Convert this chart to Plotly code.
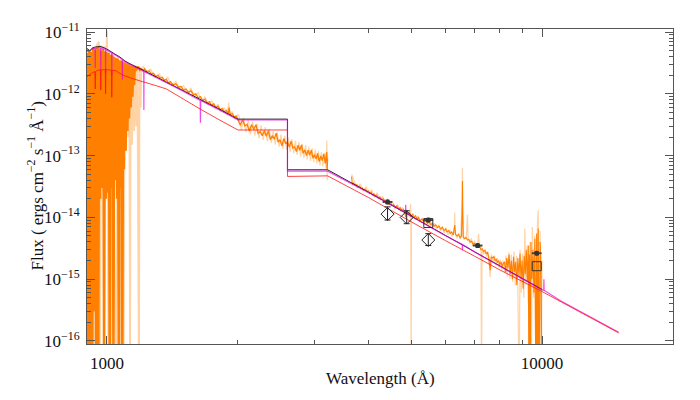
import plotly.graph_objects as go

# ---------------- data ----------------
# observed spectrum, UV part: dark (binned) and light (raw) curves
uv_dark_wl = [900, 905, 910, 915, 920, 925, 930, 935, 940, 945, 950, 955, 960, 965, 970, 975,
              980, 985, 990, 995, 1000, 1005, 1010, 1015, 1020, 1025, 1030, 1035, 1040, 1045,
              1050, 1055, 1060, 1065, 1070, 1075, 1080, 1085, 1090, 1095, 1100, 1105, 1110,
              1115, 1120, 1125, 1130, 1135, 1140, 1145, 1150, 1155, 1160, 1170, 1180, 1190,
              1200, 1210, 1220, 1235, 1250, 1265, 1280, 1295, 1310, 1325, 1340, 1355, 1370,
              1385, 1400, 1420, 1440, 1460, 1480, 1500, 1520, 1540, 1560, 1580, 1600, 1620,
              1640, 1660, 1680, 1700, 1720, 1740, 1760, 1780, 1800, 1820, 1840, 1860, 1880,
              1900, 1910, 1920, 1940, 1960, 1980,
              2000, 2025, 2050, 2075, 2100, 2125, 2150, 2175, 2200, 2225, 2250, 2275, 2300,
              2325, 2350, 2375, 2400, 2425, 2450, 2475, 2500, 2525, 2550, 2575, 2600, 2625,
              2650, 2675, 2700, 2725, 2750, 2775, 2800, 2825, 2850, 2875, 2900, 2925, 2950,
              2975, 3000, 3025, 3050, 3075, 3100, 3125, 3150, 3175, 3200, 3208, 3214]
uv_dark_flux = [4.6e-12, 1e-17, 5.0e-12, 1e-17, 4.8e-12, 1e-17, 5.5e-12, 3e-16, 5.2e-12, 1e-17,
                5.6e-12, 1e-17, 5.4e-12, 2e-14, 5.0e-12, 3e-14, 5.3e-12, 1e-17, 4.9e-12, 2e-14,
                4.7e-12, 2.5e-14, 4.6e-12, 1e-17, 4.3e-12, 3e-14, 4.2e-12, 1e-17, 4.0e-12, 4e-14,
                3.8e-12, 2e-14, 3.7e-12, 1e-17, 3.5e-12, 3e-14, 3.4e-12, 1e-17, 3.3e-12, 6e-14,
                3.2e-12, 1.2e-13, 3.1e-12, 2.5e-13, 3.0e-12, 4e-13, 2.9e-12, 6e-13, 2.85e-12,
                9e-13, 2.8e-12, 1.4e-12, 2.8e-12, 2.5e-12, 2.75e-12, 2.45e-12,
                2.6e-12, 2.35e-12, 2.55e-12, 2.3e-12, 2.35e-12, 2.1e-12, 2.15e-12, 1.9e-12,
                2.0e-12, 1.8e-12, 1.85e-12, 1.65e-12, 1.72e-12, 1.5e-12, 1.58e-12, 1.4e-12,
                1.45e-12, 1.28e-12, 1.32e-12, 1.15e-12, 1.2e-12, 1.05e-12, 1.12e-12, 9.6e-13,
                1.0e-12, 8.6e-13, 9.0e-13, 7.8e-13, 8.2e-13, 7.1e-13, 7.5e-13, 6.5e-13, 6.9e-13,
                6.0e-13, 6.3e-13, 5.5e-13, 5.8e-13, 5.1e-13, 5.4e-13, 4.8e-13, 6.0e-13, 4.6e-13,
                4.8e-13, 4.2e-13, 4.4e-13,
                3.86e-13, 3.10e-13, 3.81e-13, 3.02e-13, 3.21e-13, 2.51e-13, 3.18e-13, 2.66e-13,
                3.17e-13, 2.30e-13, 2.46e-13, 2.09e-13, 2.53e-13, 2.06e-13, 2.54e-13, 1.81e-13,
                2.11e-13, 1.85e-13, 2.31e-13, 1.65e-13, 1.81e-13, 1.44e-13, 1.89e-13, 1.55e-13,
                1.68e-13, 1.37e-13, 1.71e-13, 1.33e-13, 1.39e-13, 1.16e-13, 1.47e-13, 1.22e-13,
                1.49e-13, 1.09e-13, 1.24e-13, 1.00e-13, 1.22e-13, 1.02e-13, 1.23e-13, 0.91e-13,
                1.03e-13, 0.89e-13, 1.09e-13, 0.80e-13, 0.99e-13, 0.83e-13, 1.07e-13, 0.75e-13,
                1.14e-13, 0.6e-13, 0.9e-13]

uv_light_wl = [900, 903, 912, 918, 928, 933, 946, 958, 962, 972, 990, 998, 1000, 1002, 1008,
               1012, 1022, 1028, 1052, 1058, 1078, 1083, 1092, 1098, 1105, 1112, 1120, 1126,
               1130, 1134, 1142, 1148, 1155, 1162, 1168, 1175, 1185, 1188, 1195, 1200, 1215,
               1230, 1260, 1290, 1320, 1350, 1380, 1410, 1440, 1470, 1500, 1530, 1560, 1590,
               1620, 1650, 1680, 1710, 1740, 1770, 1800, 1830, 1860, 1890, 1905, 1915, 1940,
               1970, 2000, 2012, 2037, 2062, 2087, 2112, 2137, 2162, 2187, 2212, 2237, 2262,
               2287, 2312, 2337, 2362, 2387, 2412, 2437, 2462, 2487, 2512, 2537, 2562, 2587,
               2612, 2637, 2662, 2687, 2712, 2737, 2762, 2787, 2812, 2837, 2862, 2887, 2912,
               2937, 2962, 2987, 3012, 3037, 3062, 3087, 3112, 3137, 3162, 3187, 3202, 3208,
               3214]
uv_light_flux = [5.5e-12, 1e-17, 5.2e-12, 1e-17, 5.8e-12, 1e-17, 6.0e-12, 7e-12, 1e-17, 5.8e-12,
                 5.6e-12, 6e-12, 1.05e-11, 4.8e-12, 1e-17, 4.9e-12, 1e-17, 4.5e-12, 1e-17,
                 4.0e-12, 1e-17, 3.6e-12, 1e-17, 3.4e-12, 1.5e-13, 3.3e-12, 2e-13, 3.2e-12,
                 1e-17, 3.1e-12, 1.5e-13, 3.0e-12, 2.5e-13, 2.9e-12, 3e-13, 2.8e-12, 1e-17,
                 2.7e-12, 6e-13, 2.6e-12, 2.8e-12, 2.2e-12, 2.5e-12, 1.85e-12, 2.1e-12, 1.6e-12,
                 1.85e-12, 1.38e-12, 1.6e-12, 1.2e-12, 1.35e-12, 1.0e-12, 1.25e-12, 9e-13,
                 1.05e-12, 7.5e-13, 9e-13, 6.6e-13, 7.8e-13, 5.8e-13, 6.8e-13, 5.1e-13, 6.0e-13,
                 4.6e-13, 7.2e-13, 4.5e-13, 5.2e-13, 3.9e-13, 4.6e-13,
                 4.4e-13, 2.6e-13, 4.1e-13, 2.4e-13, 3.8e-13, 2.2e-13, 3.6e-13, 2.1e-13, 3.3e-13,
                 1.9e-13, 3.1e-13, 1.8e-13, 2.9e-13, 1.7e-13, 2.7e-13, 1.6e-13, 2.5e-13, 1.5e-13,
                 2.4e-13, 1.4e-13, 2.2e-13, 1.3e-13, 2.1e-13, 1.25e-13, 1.95e-13, 1.15e-13,
                 1.85e-13, 1.1e-13, 1.75e-13, 1.03e-13, 1.65e-13, 0.98e-13, 1.55e-13, 0.92e-13,
                 1.48e-13, 0.87e-13, 1.40e-13, 0.82e-13, 1.33e-13, 0.78e-13, 1.25e-13, 0.74e-13,
                 1.19e-13, 0.70e-13, 1.14e-13, 0.67e-13, 1.10e-13, 0.64e-13, 1.75e-13, 0.4e-13,
                 1.0e-13]

# observed spectrum, optical part
opt_dark_wl = [3650, 3665, 3690, 3720, 3750, 3780, 3810, 3840, 3870, 3900, 3930, 3960, 3990,
               4020, 4050, 4080, 4110, 4140, 4170, 4200, 4240, 4280, 4320, 4360, 4400, 4440,
               4480, 4520, 4560, 4600, 4640, 4680, 4720, 4760, 4800, 4840, 4861, 4880, 4920,
               4960, 5000, 5040, 5080, 5120, 5160, 5200, 5250, 5300, 5350, 5400, 5450, 5500,
               5550, 5600, 5650, 5700, 5750, 5800, 5850, 5900, 5950, 6000, 6050, 6100, 6150,
               6200, 6250, 6300, 6330, 6380, 6430, 6480, 6530, 6555, 6563, 6572, 6590, 6640,
               6690, 6740, 6790, 6840, 6890, 6940, 6990, 7040, 7090, 7140, 7190, 7240, 7290,
               7340, 7390, 7440, 7490, 7540, 7600, 7640, 7700, 7750, 7800, 7850, 7900, 7950,
               8000, 8050, 8100, 8150, 8200, 8250, 8300, 8350, 8400, 8450, 8500, 8550, 8600,
               8650, 8700, 8750, 8800, 8850, 8900, 8950, 9000, 9050, 9100, 9150, 9200, 9250,
               9300, 9330, 9360, 9400, 9430, 9480, 9530, 9580, 9630, 9680, 9720, 9760, 9800,
               9850, 9900, 9950, 10000]
opt_dark_flux = [4.6e-14, 3.4e-14, 3.6e-14, 3.3e-14, 3.4e-14, 3.1e-14, 3.2e-14, 2.9e-14, 3.0e-14,
                 2.75e-14, 2.85e-14, 2.6e-14, 2.7e-14, 2.45e-14, 2.55e-14, 2.3e-14, 2.4e-14,
                 2.2e-14, 2.3e-14, 2.05e-14, 2.15e-14, 1.95e-14, 2.0e-14, 1.8e-14, 1.9e-14,
                 1.65e-14, 1.72e-14, 1.55e-14, 1.62e-14, 1.45e-14, 1.55e-14, 1.35e-14, 1.45e-14,
                 1.28e-14, 1.36e-14, 1.2e-14, 1.0e-14, 1.25e-14, 1.15e-14, 1.2e-14, 1.05e-14,
                 1.12e-14, 1.0e-14, 1.06e-14, 9.4e-15, 1.0e-14, 8.9e-15, 9.4e-15, 8.4e-15,
                 8.9e-15, 8.0e-15, 8.4e-15, 7.6e-15, 8.0e-15, 7.2e-15, 7.6e-15, 6.8e-15, 7.2e-15,
                 6.5e-15, 6.9e-15, 6.1e-15, 6.5e-15, 5.8e-15, 6.1e-15, 5.5e-15, 5.8e-15, 5.2e-15,
                 7.5e-15, 5.3e-15, 5.0e-15, 5.3e-15, 4.7e-15, 5.0e-15, 1.5e-14, 3.9e-14, 1.2e-14,
                 4.8e-15, 4.5e-15, 4.7e-15, 4.3e-15, 4.4e-15, 4.0e-15, 4.1e-15, 3.7e-15, 3.8e-15,
                 3.5e-15, 3.6e-15, 3.3e-15, 3.4e-15, 3.0e-15, 3.1e-15, 2.8e-15, 2.9e-15, 2.6e-15,
                 2.7e-15, 2.3e-15, 1.4e-15, 2.3e-15, 2.2e-15, 2.3e-15, 2.0e-15, 2.1e-15, 1.85e-15,
                 2.0e-15, 1.7e-15, 1.9e-15, 1.6e-15, 1.8e-15, 1.9e-15, 1.3e-15, 2.2e-15, 1.5e-15,
                 2.5e-15, 1.2e-15, 2.0e-15, 1.0e-15, 2.3e-15, 1.3e-15, 1.9e-15, 8e-16, 2.2e-15,
                 1.1e-15, 2.6e-15, 1.0e-15, 2.0e-15, 7e-16, 2.4e-15, 1.2e-15, 3.0e-15, 9e-16,
                 3.5e-15, 1e-17, 2.5e-15, 1e-17, 4e-15, 1.0e-15, 3.0e-15, 6e-16, 4.5e-15, 1e-17,
                 5.5e-15, 1e-17, 6.6e-15, 1e-17, 4e-15, 1.5e-15, 1e-17]

opt_light_wl = [3650, 3700, 3760, 3820, 3880, 3940, 4000, 4060, 4120, 4180, 4240, 4300, 4360,
                4420, 4480, 4540, 4600, 4660, 4720, 4780, 4840, 4900, 4960, 4990, 5003, 5010,
                5060, 5120, 5180, 5240, 5300, 5360, 5420, 5480, 5540, 5600, 5660, 5720, 5780,
                5840, 5900, 5960, 6020, 6080, 6140, 6200, 6290, 6300, 6310, 6380, 6440, 6500,
                6550, 6563, 6575, 6600, 6700, 6740, 6760, 6820, 6880, 6940, 7000, 7060, 7120,
                7150, 7180, 7240, 7260, 7280, 7340, 7400, 7460, 7520, 7600, 7660, 7720, 7780,
                7840, 7900, 7960, 8020, 8080, 8140, 8200, 8260, 8320, 8380, 8440, 8500, 8560,
                8620, 8680, 8740, 8800, 8860, 8900, 8960, 9020, 9080, 9130, 9180, 9240, 9300,
                9380, 9440, 9500, 9560, 9620, 9700, 9760, 9800, 9840, 9900, 9950, 10000]
opt_light_flux = [5e-14, 3.9e-14, 3.0e-14, 3.5e-14, 2.7e-14, 3.1e-14, 2.4e-14, 2.8e-14, 2.1e-14,
                  2.5e-14, 1.9e-14, 2.2e-14, 1.7e-14, 2.0e-14, 1.55e-14, 1.8e-14, 1.35e-14,
                  1.6e-14, 1.25e-14, 1.45e-14, 1.12e-14, 1.3e-14, 1.0e-14, 1.66e-14, 1e-17,
                  1.0e-14, 1.15e-14, 9.2e-15, 1.05e-14, 8.4e-15, 9.8e-15, 7.8e-15, 9.2e-15,
                  7.2e-15, 8.6e-15, 6.8e-15, 8.0e-15, 6.4e-15, 7.6e-15, 6.0e-15, 7.2e-15, 5.6e-15,
                  6.8e-15, 5.2e-15, 6.3e-15, 4.9e-15, 6e-15, 1.2e-14, 5.5e-15, 4.6e-15, 5.6e-15,
                  4.4e-15, 2e-14, 6.3e-14, 1.5e-14, 4.4e-15, 5.0e-15, 1.1e-14, 4.6e-15, 3.8e-15,
                  4.6e-15, 3.5e-15, 4.2e-15, 3.2e-15, 4.0e-15, 5.4e-15, 3.3e-15, 3.5e-15, 1e-17,
                  3.0e-15, 2.5e-15, 3.1e-15, 2.3e-15, 2.8e-15, 1.08e-15, 2.5e-15, 1.9e-15,
                  2.4e-15, 1.7e-15, 2.2e-15, 1.55e-15, 2.1e-15, 1.4e-15, 2.0e-15, 1.3e-15,
                  2.4e-15, 1.1e-15, 2.7e-15, 1.0e-15, 2.5e-15, 9e-16, 2.8e-15, 8e-16, 2.4e-15,
                  7e-16, 1e-17, 3e-15, 6e-16, 2.6e-15, 5e-16, 6.6e-15, 8e-16, 3.5e-15, 4e-16,
                  4e-15, 1e-17, 7e-15, 5e-16, 5e-15, 1e-17, 8e-15, 1.3e-14, 1e-17, 6e-15, 1e-17,
                  2e-15]

# model curves
black_wl = [900, 914, 925, 938, 950, 964, 975, 989, 1000, 1016, 1043, 1071, 1100, 1130, 1160,
            1210, 1300, 1400, 1500, 1650, 1800, 2000, 2600, 2600, 3215, 4000, 5000, 6000, 7000,
            8000, 9000, 10000]
black_flux = [5.4e-12, 5.0e-12, 5.5e-12, 5.7e-12, 5.8e-12, 5.9e-12, 5.7e-12, 5.5e-12, 5.3e-12,
              4.95e-12, 4.4e-12, 3.95e-12, 3.4e-12, 3.06e-12, 2.79e-12, 2.42e-12, 1.87e-12,
              1.43e-12, 1.12e-12, 7.9e-13, 5.8e-13, 3.9e-13, 3.9e-13, 5.9e-14, 5.9e-14, 2.53e-14,
              1.05e-14, 5.1e-15, 2.77e-15, 1.64e-15, 1.03e-15, 6.8e-16]

magenta_wl = [900, 914, 925, 938, 939, 940, 941, 950, 964, 967, 968, 969, 975, 989, 992, 993,
              994, 1000, 1016, 1025, 1026, 1027, 1043, 1071, 1084, 1085, 1086, 1100, 1130, 1160,
              1210, 1215, 1216, 1217, 1300, 1400, 1500, 1638, 1640, 1642, 1650, 1800, 2000,
              2600, 2600, 3215, 4000, 4855, 4861, 4867, 5000, 6000, 6555, 6563, 6570, 7000,
              8000, 9000, 10000, 10090, 10100, 10110, 11000, 15000]
magenta_flux = [4.9e-12, 4.9e-12, 5.3e-12, 5.5e-12, 5.5e-12, 2.6e-12, 5.5e-12, 5.6e-12, 5.6e-12,
                5.5e-12, 2.4e-12, 5.5e-12, 5.4e-12, 5.3e-12, 5.2e-12, 2.2e-12, 5.2e-12, 5.1e-12,
                4.8e-12, 4.6e-12, 2.0e-12, 4.6e-12, 4.3e-12, 3.85e-12, 3.6e-12, 1.7e-12, 3.6e-12,
                3.3e-12, 3.0e-12, 2.72e-12, 2.36e-12, 2.3e-12, 5.5e-13, 2.3e-12, 1.82e-12,
                1.4e-12, 1.09e-12, 7.8e-13, 3.4e-13, 7.8e-13, 7.7e-13, 5.65e-13, 3.8e-13, 3.8e-13,
                5.6e-14, 5.6e-14, 2.5e-14, 1.21e-14, 1.6e-14, 1.21e-14, 1.04e-14, 5.05e-15,
                3.65e-15, 2.9e-15, 3.65e-15, 2.74e-15, 1.62e-15, 1.02e-15, 6.75e-16, 6.6e-16,
                1.0e-15, 6.6e-16, 4.5e-16, 1.38e-16]

red_wl = [900, 925, 938, 940, 942, 950, 966, 968, 970, 975, 991, 993, 995, 1000, 1024, 1026, 1028,
          1050, 1071, 1100, 1150, 1210, 1300, 1370, 1500, 1636, 1800, 2000, 2600, 2600, 3215,
          4000, 5000, 6000, 7000, 8000, 10000, 15000]
red_flux = [1.9e-12, 2.2e-12, 2.3e-12, 1.2e-12, 2.3e-12, 2.4e-12, 2.45e-12, 1.15e-12, 2.45e-12,
            2.46e-12, 2.47e-12, 1.0e-12, 2.47e-12, 2.47e-12, 2.42e-12, 8.8e-13, 2.4e-12, 2.36e-12,
            2.14e-12, 1.95e-12, 1.75e-12, 1.57e-12, 1.35e-12, 1.2e-12, 8.2e-13, 5.7e-13, 3.9e-13,
            2.6e-13, 2.6e-13, 4.6e-14, 4.7e-14, 2.08e-14, 8.5e-15, 4.2e-15, 2.35e-15, 1.41e-15,
            6.3e-16, 1.35e-16]

# photometry
phot_wl = [4415, 5478, 7112, 9723]
phot_flux = [1.78e-14, 9.06e-15, 3.49e-15, 2.63e-15]
phot_wl_err = [93, 115, 150, 205]
phot_flux_err = [1.2e-15, 6e-16, 2.3e-16, 1.7e-16]

diam_wl = [4415, 4886, 5478]
diam_flux = [1.13e-14, 9.96e-15, 4.3e-15]
diam_hi = [1.48e-14, 1.28e-14, 5.45e-15]
diam_lo = [9.06e-15, 7.9e-15, 3.5e-15]

sq_wl = [5478, 9723]
sq_flux = [8.1e-15, 1.62e-15]

x_ticks = [1000, 10000]
x_ticktext = ["1000", "10000"]
y_exponents = [-16, -15, -14, -13, -12, -11]

# ---------------- figure ----------------
LIGHT = "rgba(255,140,20,0.38)"
DARK = "rgb(255,128,0)"

# the far-UV part of the spectrum is drawn with a thicker line (dense noise)
k_uv = uv_dark_wl.index(1200)
k_ul = uv_light_wl.index(1200)

fig = go.Figure()
for wl, fl, col, w in [(uv_light_wl[:k_ul + 1], uv_light_flux[:k_ul + 1], LIGHT, 1.8),
                       (uv_light_wl[k_ul:], uv_light_flux[k_ul:], LIGHT, 1.2),
                       (opt_light_wl, opt_light_flux, LIGHT, 1.2),
                       (uv_dark_wl[:k_uv + 1], uv_dark_flux[:k_uv + 1], DARK, 2.3),
                       (uv_dark_wl[k_uv:], uv_dark_flux[k_uv:], DARK, 1.3),
                       (opt_dark_wl, opt_dark_flux, DARK, 1.1)]:
    fig.add_trace(go.Scatter(x=wl, y=fl, mode="lines",
                             line=dict(color=col, width=w, simplify=False),
                             showlegend=False, hoverinfo="skip"))

fig.add_trace(go.Scatter(x=black_wl, y=black_flux, mode="lines",
                         line=dict(color="rgba(0,0,0,0.85)", width=1, simplify=False),
                         showlegend=False))
fig.add_trace(go.Scatter(x=magenta_wl, y=magenta_flux, mode="lines",
                         line=dict(color="rgba(230,0,230,0.7)", width=1.2, simplify=False),
                         showlegend=False))
fig.add_trace(go.Scatter(x=red_wl, y=red_flux, mode="lines",
                         line=dict(color="rgba(255,20,20,0.8)", width=1, simplify=False),
                         showlegend=False))

fig.add_trace(go.Scatter(
    x=phot_wl, y=phot_flux, mode="markers",
    marker=dict(symbol="circle", size=5, color="#333"),
    error_x=dict(type="data", array=phot_wl_err, color="#444", thickness=1.8, width=1),
    error_y=dict(type="data", array=phot_flux_err, color="#444", thickness=1, width=2),
    showlegend=False))
fig.add_trace(go.Scatter(
    x=diam_wl, y=diam_flux, mode="markers",
    marker=dict(symbol="diamond-open", size=10, color="#222", line=dict(width=1)),
    error_y=dict(type="data", symmetric=False,
                 array=[h - f for h, f in zip(diam_hi, diam_flux)],
                 arrayminus=[f - l for f, l in zip(diam_flux, diam_lo)],
                 color="#222", thickness=1, width=3),
    showlegend=False))
fig.add_trace(go.Scatter(
    x=sq_wl, y=sq_flux, mode="markers",
    marker=dict(symbol="square-open", size=9, color="#333", line=dict(width=1)),
    showlegend=False))

FONT = "Liberation Serif"
x_minor = [m * 1000 for m in range(2, 10)]
y_minor = [m * 10.0 ** e for e in range(-17, -10) for m in range(2, 10)]
axis_common = dict(type="log", showgrid=False, zeroline=False, showline=True,
                   linecolor="#555", linewidth=1, mirror="allticks", ticks="inside",
                   tickcolor="#555", ticklen=8, tickwidth=1,
                   tickfont=dict(family=FONT, size=17, color="#111"))

fig.update_xaxes(**axis_common, range=[2.9542, 4.3010], tickmode="array", tickvals=x_ticks,
                 ticktext=x_ticktext, ticklabelstandoff=4,
                 minor=dict(tickmode="array", tickvals=x_minor, ticks="inside", ticklen=4,
                            tickcolor="#555", showgrid=False))
fig.update_yaxes(**axis_common, range=[-16.05, -10.95], tickmode="array",
                 tickvals=[10.0 ** e for e in y_exponents],
                 ticktext=["10<sup>\u2212%d</sup>" % (-e) for e in y_exponents],
                 ticklabelstandoff=3,
                 minor=dict(tickmode="array", tickvals=y_minor, ticks="inside", ticklen=4,
                            tickcolor="#555", showgrid=False))

fig.update_layout(
    width=700, height=400,
    margin=dict(l=79, r=35, t=19, b=64),
    paper_bgcolor="white", plot_bgcolor="white",
    font=dict(family=FONT, size=17, color="#111"),
    annotations=[
        dict(text="Wavelength (\u00c5)", xref="paper", yref="paper", x=0.5, y=0,
             yshift=-34, yanchor="middle", showarrow=False,
             font=dict(family=FONT, size=17, color="#111")),
        dict(text="Flux ( ergs cm<sup>\u22122</sup> s<sup>\u22121</sup> \u00c5<sup>\u22121</sup>)",
             xref="paper", yref="paper", x=0, y=0.5, xshift=-52, textangle=-90,
             xanchor="center", showarrow=False,
             font=dict(family=FONT, size=17, color="#111")),
    ],
)

fig.write_html("out.html")
